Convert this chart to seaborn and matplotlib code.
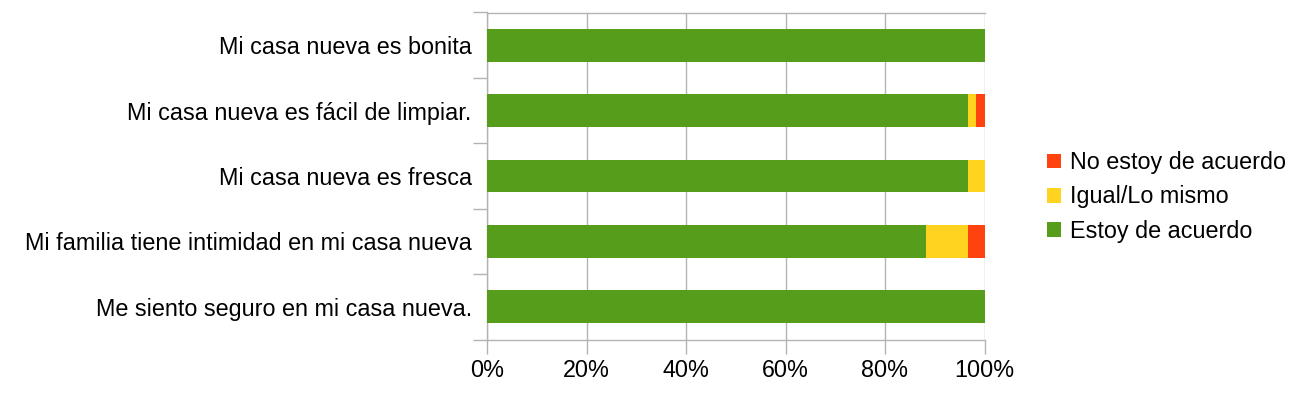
import matplotlib
matplotlib.use("Agg")
import matplotlib.pyplot as plt
import seaborn as sns
import pandas as pd
import numpy as np
from matplotlib.patches import Patch
from matplotlib.ticker import FixedLocator

categories = ["Mi casa nueva es bonita",
              "Mi casa nueva es fácil de limpiar.",
              "Mi casa nueva es fresca",
              "Mi familia tiene intimidad en mi casa nueva",
              "Me siento seguro en mi casa nueva."]
acuerdo = [100.0, 96.6, 96.6, 88.2, 100.0]
igual = [0.0, 1.7, 3.4, 8.4, 0.0]
desacuerdo = [0.0, 1.7, 0.0, 3.4, 0.0]
series_names = ["No estoy de acuerdo", "Igual/Lo mismo", "Estoy de acuerdo"]
xticks = [0, 20, 40, 60, 80, 100]

c_green = "#579D1C"
c_yellow = "#FFD320"
c_red = "#FF420E"
grid_c = "#b3b3b3"

sns.set_theme(style="white")
plt.rcParams["font.family"] = ["Liberation Sans", "DejaVu Sans"]
plt.rcParams["text.color"] = "black"
plt.rcParams["xtick.labelcolor"] = "black"
plt.rcParams["ytick.labelcolor"] = "black"

df = pd.DataFrame({"cat": categories,
                   "g": acuerdo,
                   "y": igual,
                   "r": desacuerdo})
df["gy"] = df["g"] + df["y"]
df["gyr"] = df["gy"] + df["r"]

fig = plt.figure(figsize=(12.91, 3.94), dpi=100)
ax = fig.add_axes([487/1291, 1 - 339.5/394, (984.5-487)/1291, (339.5-12.5)/394])

for xv in xticks:
    ax.axvline(xv, color=grid_c, lw=1, zorder=0)

w = 0.5
d_r = df[df["r"] > 0]
sns.barplot(data=d_r, x="gyr", y="cat", order=categories, color=c_red, width=w,
            saturation=1, linewidth=0, ax=ax, zorder=2)
d_y = df[df["y"] > 0]
sns.barplot(data=d_y, x="gy", y="cat", order=categories, color=c_yellow, width=w,
            saturation=1, linewidth=0, ax=ax, zorder=3)
sns.barplot(data=df, x="g", y="cat", order=categories, color=c_green, width=w,
            saturation=1, linewidth=0, ax=ax, zorder=4)

fs = 16.8
ax.set_xlim(0, 100)
ax.set_ylim(4.5, -0.5)
ax.set_xlabel("")
ax.set_ylabel("")
ax.set_xticks(xticks)
ax.set_xticklabels([f"{v}%" for v in xticks], fontsize=fs, color="black")
ax.tick_params(axis="x", length=10, width=1, color=grid_c, pad=4, direction="out", bottom=True)
ax.set_yticks(range(len(categories)))
ax.set_yticklabels(categories, fontsize=fs, color="black")
ax.tick_params(axis="y", which="major", length=0, pad=11)
ax.yaxis.set_minor_locator(FixedLocator(np.arange(-0.5, 5, 1.0)))
ax.tick_params(axis="y", which="minor", length=10, width=1, color=grid_c, left=True, direction="out")

for s in ["left", "top", "bottom"]:
    ax.spines[s].set_visible(True)
    ax.spines[s].set_color(grid_c)
    ax.spines[s].set_linewidth(1)
ax.spines["right"].set_visible(False)

handles = [Patch(facecolor=c_red, edgecolor="none"),
           Patch(facecolor=c_yellow, edgecolor="none"),
           Patch(facecolor=c_green, edgecolor="none")]
leg = fig.legend(handles, series_names, loc="center left",
                 bbox_to_anchor=(1047/1291, 1 - 197/394), frameon=False,
                 fontsize=fs, handlelength=0.58, handleheight=0.58,
                 handletextpad=0.4, labelspacing=0.48, borderpad=0,
                 borderaxespad=0)
for t in leg.get_texts():
    t.set_color("black")

fig.savefig("out.png", dpi=100)
